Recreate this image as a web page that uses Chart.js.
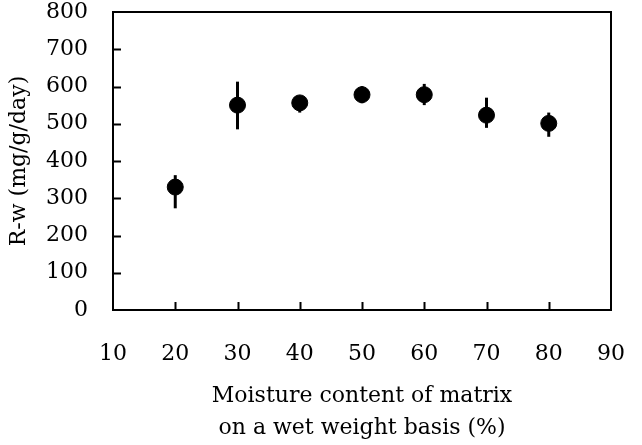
<!DOCTYPE html>
<html><head><meta charset="utf-8">
<script src="https://cdn.jsdelivr.net/npm/chart.js@4"></script>
<style>html,body{margin:0;padding:0;background:#fff}#wrap{width:642px;height:445px;position:relative}</style>
</head><body><div id="wrap"><canvas id="c"></canvas></div>
<script>
// Data
const moisture = [20, 30, 40, 50, 60, 70, 80];
const rw       = [330, 550, 556, 578, 578, 523, 501];
const errHigh  = [362, 613, 574, 601, 607, 570, 530];
const errLow   = [273, 485, 530, 555, 550, 489, 465];
const xTickValues = [10, 20, 30, 40, 50, 60, 70, 80, 90];
const yTickValues = [0, 100, 200, 300, 400, 500, 600, 700, 800];
const xTitle = ["Moisture content of matrix", "on a wet weight basis (%)"];
const yTitle = "R-w (mg/g/day)";

const FONT = "'DejaVu Serif', 'Liberation Serif', serif";

const frame = {
  id: 'frame',
  beforeDatasetsDraw(chart) {
    const ctx = chart.ctx, xs = chart.scales.x, ys = chart.scales.y;
    ctx.save();
    ctx.strokeStyle = '#000';
    ctx.lineWidth = 3;
    ctx.lineCap = 'butt';
    moisture.forEach((m, i) => {
      const px = xs.getPixelForValue(m);
      ctx.beginPath();
      ctx.moveTo(px, ys.getPixelForValue(errHigh[i]));
      ctx.lineTo(px, ys.getPixelForValue(errLow[i]));
      ctx.stroke();
    });
    ctx.restore();
  },
  afterDraw(chart) {
    const ctx = chart.ctx, a = chart.chartArea, xs = chart.scales.x, ys = chart.scales.y;
    ctx.save();
    ctx.strokeStyle = '#000';
    ctx.lineWidth = 2;
    ctx.strokeRect(a.left, a.top, a.right - a.left, a.bottom - a.top);
    ctx.beginPath();
    xTickValues.slice(1, -1).forEach(v => {
      const px = Math.round(xs.getPixelForValue(v)) + 0.5;
      ctx.moveTo(px, a.bottom); ctx.lineTo(px, a.bottom - 8);
    });
    yTickValues.slice(1, -1).forEach(v => {
      const py = Math.round(ys.getPixelForValue(v)) + 0.5;
      ctx.moveTo(a.left, py); ctx.lineTo(a.left + 8, py);
    });
    ctx.stroke();
    ctx.restore();
  }
};

function zeroPad(s) { s.paddingTop = 0; s.paddingBottom = 0; s.paddingLeft = 0; s.paddingRight = 0; }

new Chart(document.getElementById('c'), {
  type: 'scatter',
  data: {
    datasets: [{
      data: moisture.map((m, i) => ({x: m, y: rw[i]})),
      backgroundColor: '#000',
      borderColor: '#000',
      pointRadius: 8,
      pointHoverRadius: 8
    }]
  },
  options: {
    responsive: true,
    maintainAspectRatio: false,
    animation: false,
    events: [],
    layout: {padding: {top: 12, right: 31, bottom: 0, left: 0}},
    plugins: {legend: {display: false}, tooltip: {enabled: false}},
    scales: {
      x: {
        type: 'linear', min: 10, max: 90,
        afterBuildTicks: s => { s.ticks = xTickValues.map(v => ({value: v})); },
        afterFit: s => { s.height = 135; zeroPad(s); },
        grid: {display: false, drawTicks: false},
        border: {display: false},
        ticks: {color: '#000', font: {family: FONT, size: 22}, padding: 31, maxRotation: 0, autoSkip: false},
        title: {display: true, text: xTitle, color: '#000', font: {family: FONT, size: 22, lineHeight: 1.45}, padding: {top: 0, bottom: 1}}
      },
      y: {
        type: 'linear', min: 0, max: 800,
        afterBuildTicks: s => { s.ticks = yTickValues.map(v => ({value: v})); },
        afterFit: s => { s.width = 113; zeroPad(s); },
        grid: {display: false, drawTicks: false},
        border: {display: false},
        ticks: {color: '#000', font: {family: FONT, size: 22}, padding: 25, autoSkip: false},
        title: {display: true, text: yTitle, color: '#000', font: {family: FONT, size: 22, lineHeight: 1.15}, padding: {top: 7, bottom: 0}}
      }
    }
  },
  plugins: [frame]
});
</script>
</body></html>
